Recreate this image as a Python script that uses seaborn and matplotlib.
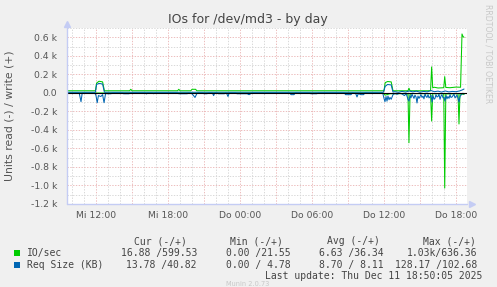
import numpy as np
import matplotlib
matplotlib.use("Agg")
import matplotlib.pyplot as plt
import seaborn as sns
from matplotlib.patches import Rectangle

# ---------------- data (time in hours since Wed 00:00) ----------------
io_write_t = [9.58, 11.95, 12.05, 12.25, 12.55, 12.7, 14.8, 14.9, 15.0, 18.8, 18.9, 19.0,
              19.9, 20.0, 20.3, 20.4, 36.0, 36.1, 36.3, 36.6, 36.75, 38.0, 38.08, 38.17,
              39.88, 39.97, 40.06, 40.2, 40.5, 40.98, 41.06, 41.15, 41.5, 42.0, 42.38,
              42.5, 42.58, 42.67]
io_write_v = [22, 22, 105, 125, 118, 22, 22, 38, 22, 22, 38, 22,
              22, 38, 38, 22, 22, 110, 122, 118, 22, 22, 50, 22,
              22, 280, 55, 60, 52, 55, 175, 58, 55, 62, 60,
              636, 610, 600]

io_read_t = [9.58, 35.9, 36.1, 36.5, 37.9, 38.0, 38.08, 38.17, 38.3, 39.88, 39.97, 40.06,
             40.98, 41.06, 41.15, 42.17, 42.25, 42.33, 42.67]
io_read_v = [2, 2, 25, 10, 8, 15, 540, 15, 8, 10, 305, 10,
             10, 1030, 12, 10, 337, 12, 17]

req_write_t = [9.58, 11.95, 12.05, 12.25, 12.55, 12.7, 35.95, 36.1, 36.3, 36.6, 36.75,
               36.9, 37.2, 37.5, 37.8, 38.1, 38.4, 38.7, 39.0, 39.3, 39.6, 39.9, 40.2,
               40.5, 40.8, 41.1, 41.4, 41.7, 42.0, 42.3, 42.5, 42.67]
req_write_v = [6, 6, 90, 102, 95, 6, 6, 70, 90, 85, 8,
               12, 5, 15, 8, 20, 10, 18, 6, 15, 10, 25, 12,
               18, 8, 20, 10, 15, 12, 20, 30, 41]

req_read_t = [9.58, 10.6, 10.75, 10.85, 11.9, 12.0, 12.1, 12.2, 12.4, 12.55, 12.67, 12.8,
              12.9, 13.25, 13.35, 14.2, 14.3, 14.75, 14.85, 16.1, 16.2, 16.3, 16.7, 16.8,
              16.9, 18.8, 18.9, 19.6, 19.7, 20.0, 20.25, 20.4, 20.5, 20.9, 21.0, 21.25,
              21.35, 21.7, 21.8, 21.9, 22.1, 22.2, 22.7, 22.8, 22.9, 23.0, 23.1, 23.65,
              23.75, 24.6, 24.75, 24.9, 25.0, 25.95, 26.05, 26.15, 28.15, 28.25, 28.5,
              28.6, 29.8, 29.9, 30.4, 30.5, 32.7, 32.8, 33.25, 33.35, 33.65, 33.75, 33.85,
              34.1, 34.3, 34.4, 35.9,
              36.0, 36.08, 36.17, 36.25, 36.33, 36.42, 36.5, 36.6, 36.75, 36.9, 37.1, 37.3,
              37.5, 37.7, 37.85, 38.0, 38.08, 38.17, 38.25, 38.33, 38.42, 38.5, 38.58,
              38.67, 38.75, 38.83, 38.92, 39.0, 39.08, 39.17, 39.25, 39.33, 39.42, 39.5,
              39.58, 39.67, 39.75, 39.83, 39.92, 40.0, 40.08, 40.17, 40.25, 40.33, 40.42,
              40.5, 40.58, 40.67, 40.75, 40.83, 40.92, 41.0, 41.08, 41.17, 41.25, 41.33,
              41.42, 41.5, 41.58, 41.67, 41.75, 41.83, 41.92, 42.0, 42.08, 42.17, 42.25,
              42.33, 42.42, 42.5, 42.58, 42.67]
req_read_v = [2, 2, 96, 2, 2, 30, 107, 30, 40, 20, 107, 5,
              10, 10, 2, 2, 10, 10, 2, 2, 12, 2, 2, 10,
              2, 2, 10, 10, 2, 10, 50, 10, 2, 2, 10, 10,
              2, 2, 30, 2, 2, 10, 10, 2, 10, 40, 2, 2,
              10, 10, 20, 10, 2, 2, 10, 2, 2, 20, 20,
              2, 2, 10, 10, 2, 2, 20, 20, 2, 10, 45, 10,
              20, 20, 2, 5,
              60, 96, 40, 90, 35, 75, 50, 70, 20, 8, 15, 5,
              12, 30, 10, 70, 90, 30, 55, 15, 40, 60, 25,
              45, 110, 35, 60, 40, 20, 50, 35, 65, 10, 40,
              50, 20, 55, 45, 25, 100, 30, 70, 60, 20, 45,
              40, 15, 70, 35, 20, 55, 50, 90, 30, 65, 40,
              60, 20, 50, 45, 30, 15, 55, 40, 25, 60, 100,
              40, 25, 10, 5, 14]

x_ticks = [12, 15, 18, 21, 24, 27, 30, 33, 36, 39, 42]
x_tick_labels = ["Mi 12:00", "", "Mi 18:00", "", "Do 00:00", "", "Do 06:00", "",
                 "Do 12:00", "", "Do 18:00"]
y_ticks = [-1200, -1000, -800, -600, -400, -200, 0, 200, 400, 600]
y_tick_labels = ["-1.2 k", "-1.0 k", "-0.8 k", "-0.6 k", "-0.4 k", "-0.2 k", "0.0",
                 "0.2 k", "0.4 k", "0.6 k"]

legend_names = ["IO/sec", "Req Size (KB)"]
legend_colors = ["#00CC00", "#0066B3"]
stat_headers = ["Cur (-/+)", "Min (-/+)", "Avg (-/+)", "Max (-/+)"]
stat_values = [["16.88 /599.53", "0.00 /21.55", "6.63 /36.34", "1.03k/636.36"],
               ["13.78 /40.82", "0.00 / 4.78", "8.70 / 8.11", "128.17 /102.68"]]
title = "IOs for /dev/md3 - by day"
y_label = "Units read (-) / write (+)"
last_update = "Last update: Thu Dec 11 18:50:05 2025"
footer = "Munin 2.0.73"
side_text = "RRDTOOL / TOBI OETIKER"

# ---------------- figure ----------------
sns.set_style("white")
plt.rcParams["font.family"] = ["DejaVu Sans"]

W, H = 497, 287
fig = plt.figure(figsize=(W / 100, H / 100), dpi=100)
fig.patch.set_facecolor("#F0F0F0")

def fx(x):
    return x / W

def fy(y):
    return 1 - y / H

ax = fig.add_axes([fx(67), fy(203.8), 400 / W, 176.2 / H])
ax.set_facecolor("white")
ax.set_xlim(9.583, 42.917)
ax.set_ylim(-1200, 705)

for s in ax.spines.values():
    s.set_visible(False)

# grid
red = "#EBB8B8"
gray = "#D6D6D6"
ax.set_xticks(x_ticks)
ax.set_xticklabels(x_tick_labels)
ax.set_xticks(np.arange(10, 43, 1), minor=True)
ax.set_yticks(y_ticks)
ax.set_yticklabels(y_tick_labels)
ax.set_yticks(np.arange(-1100, 701, 200), minor=True)
ax.grid(which="minor", color=gray, lw=0.65, linestyle=(0, (1.5, 1.6)), zorder=0)
ax.grid(which="major", color=red, lw=0.65, linestyle=(0, (1.5, 1.6)), zorder=0)
ax.set_axisbelow(True)
ax.tick_params(axis="both", which="major", length=2, width=0.7, color=red,
               labelsize=6.7, labelcolor="#555555")
ax.tick_params(axis="x", which="major", pad=3)
ax.tick_params(axis="y", which="major", pad=5)
ax.tick_params(which="minor", length=0)

# data
lw = 0.75
sns.lineplot(x=io_write_t, y=io_write_v, ax=ax, color=legend_colors[0], lw=lw,
             estimator=None, sort=False, zorder=3)
sns.lineplot(x=io_read_t, y=-np.array(io_read_v), ax=ax, color=legend_colors[0], lw=lw,
             estimator=None, sort=False, zorder=3)
sns.lineplot(x=req_write_t, y=req_write_v, ax=ax, color=legend_colors[1], lw=lw,
             estimator=None, sort=False, zorder=3.5)
sns.lineplot(x=req_read_t, y=-np.array(req_read_v), ax=ax, color=legend_colors[1], lw=lw,
             estimator=None, sort=False, zorder=3.5)
ax.axhline(0, color="black", lw=0.8, zorder=4)
ax.set_xlabel("")
ax.set_ylabel("")

# axis lines with arrows
axc = "#C4CCF4"
ax.plot([0, 0], [0, 1.0], transform=ax.transAxes, color=axc, lw=1.0, clip_on=False, zorder=5)
ax.plot([0], [1.02], marker="^", ms=4.5, color=axc, transform=ax.transAxes, clip_on=False,
        zorder=5)
ax.plot([0, 1.0], [0, 0], transform=ax.transAxes, color=axc, lw=1.0, clip_on=False, zorder=5)
ax.plot([1.012], [0], marker=">", ms=4.5, color=axc, transform=ax.transAxes, clip_on=False,
        zorder=5)

# texts
fig.text(fx(248), fy(19.5), title, ha="center", va="center", fontsize=9, color="#444444")
fig.text(fx(10), fy(116), y_label, ha="center", va="center", rotation=90, fontsize=7.8,
         color="#555555")
fig.text(fx(488), fy(53.5), side_text, ha="center", va="center", rotation=270,
         fontsize=5.6, color="#C8C8C8")

mono = "DejaVu Sans Mono"
fs = 7
header_x = [187, 283, 380, 476]
value_x = [197, 291, 384, 477]
header_y = 241
row_y = [253, 265]
for hx, h in zip(header_x, stat_headers):
    fig.text(fx(hx), fy(header_y), h, ha="right", va="center", family=mono, fontsize=fs,
             color="#444444")
for ry, name, col, vals in zip(row_y, legend_names, legend_colors, stat_values):
    fig.add_artist(Rectangle((fx(14), fy(ry + 2.7)), 5.5 / W, 5.5 / H, transform=fig.transFigure,
                             facecolor=col, edgecolor="none"))
    fig.text(fx(27), fy(ry), name, ha="left", va="center", family=mono, fontsize=fs,
             color="#444444")
    for vx, v in zip(value_x, vals):
        fig.text(fx(vx), fy(ry), v, ha="right", va="center", family=mono, fontsize=fs,
                 color="#444444")
fig.text(fx(482), fy(276), last_update, ha="right", va="center", family=mono, fontsize=fs,
         color="#444444")
fig.text(fx(248), fy(283.5), footer, ha="center", va="center", fontsize=4.8, color="#C8C8C8")

fig.savefig("out.png", dpi=100, facecolor=fig.get_facecolor())
